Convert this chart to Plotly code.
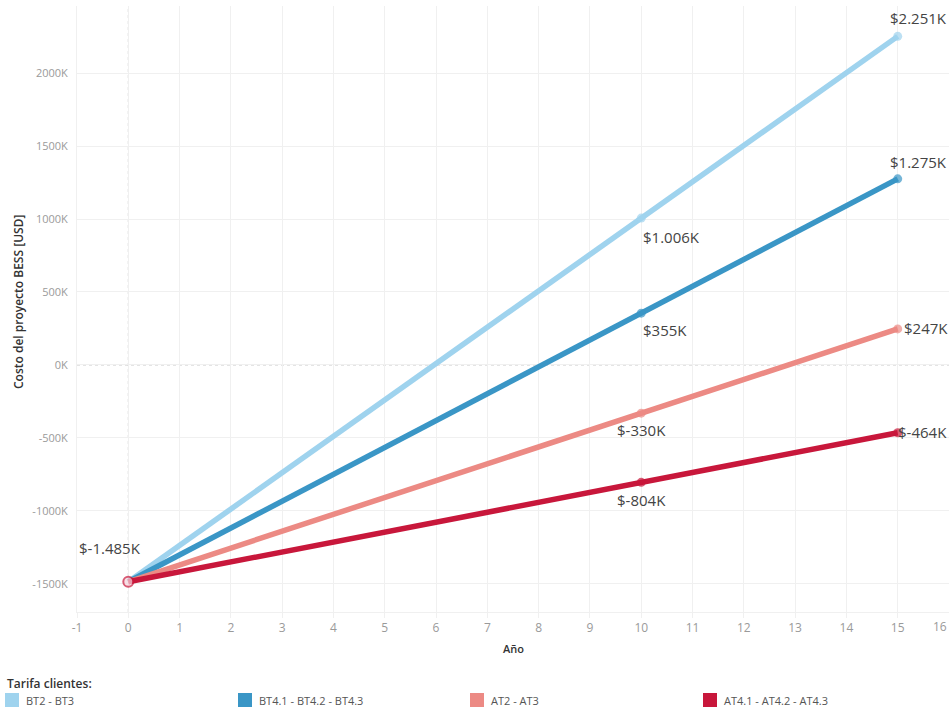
import plotly.graph_objects as go

# Project cost of a BESS installation over time, per customer tariff group
years = [0, 10, 15]
series_names = ["BT2 - BT3", "BT4.1 - BT4.2 - BT4.3", "AT2 - AT3", "AT4.1 - AT4.2 - AT4.3"]
bt2_bt3 = [-1485, 1006, 2251]
bt4 = [-1485, 355, 1275]
at2_at3 = [-1485, -330, 247]
at4 = [-1485, -804, -464]
series_values = [bt2_bt3, bt4, at2_at3, at4]
series_colors = ["#9fd3ee", "#3a96c6", "#ec8a84", "#c8173b"]

x_ticks = list(range(-1, 17))
y_ticks = [-1500, -1000, -500, 0, 500, 1000, 1500, 2000]

W, H = 949, 710
L, R, T, B = 77, 0, 6, 98
PW, PH = W - L - R, H - T - B

FONT = "Open Sans"
LABEL_COLOR = "#444444"
TICK_COLOR = "#9a9a9a"
GRID = "#f0f0f0"


def money(v):
    sign = "-" if v < 0 else ""
    s = f"{abs(v):,}".replace(",", ".")
    return f"${sign}{s}K"


def px_x(p):
    return (p - L) / PW


def px_y(p):
    return (H - B - p) / PH


fig = go.Figure()

for name, vals, col in zip(series_names, series_values, series_colors):
    is_last = name == series_names[-1]
    fig.add_trace(go.Scatter(
        x=years, y=vals, mode="lines+markers", name=name,
        line=dict(color=col, width=5.5),
        marker=dict(
            size=[10 if is_last else 0, 9, 9],
            color=["#f6d3dc" if is_last else col, col, col],
            line=dict(color=col, width=[2 if is_last else 0, 0, 0]),
        ),
        showlegend=False, hoverinfo="x+y",
    ))

# value labels: (series index, point index, xanchor, xshift, yshift)
label_specs = [
    (3, 0, "center", -18, 34),
    (0, 1, "left", 0, -19),
    (1, 1, "left", 0, -17),
    (2, 1, "center", 0, -17),
    (3, 1, "center", 0, -18),
    (0, 2, "left", -10, 18),
    (1, 2, "left", -10, 17),
    (2, 2, "left", 4, 1),
    (3, 2, "left", -2, 1),
]
for si, pi, anchor, dx, dy in label_specs:
    v = series_values[si][pi]
    fig.add_annotation(
        x=years[pi], y=v, text=money(v), showarrow=False,
        xanchor=anchor, yanchor="middle", xshift=dx, yshift=dy,
        font=dict(family=FONT, size=15, color=LABEL_COLOR),
    )

# dotted zero reference lines
fig.add_shape(type="line", xref="x", yref="paper", x0=0, x1=0, y0=0, y1=1,
              line=dict(color="#c8c8c8", width=1, dash="dot"), layer="below")
fig.add_shape(type="line", xref="paper", yref="y", x0=0, x1=1, y0=0, y1=0,
              line=dict(color="#c8c8c8", width=1, dash="dot"), layer="below")

# last x tick label sits flush with the right edge
fig.add_annotation(
    xref="x", yref="paper", x=x_ticks[-1], y=px_y(626), text=str(x_ticks[-1]),
    showarrow=False, xanchor="right", yanchor="middle", xshift=0,
    font=dict(family=FONT, size=12, color=TICK_COLOR),
)

# axis titles
fig.add_annotation(
    xref="paper", yref="paper", x=px_x(18), y=px_y(302), text="Costo del proyecto BESS [USD]",
    textangle=-90, showarrow=False, xanchor="center", yanchor="middle",
    font=dict(family=FONT, size=12, color="#333333", weight=600),
)
fig.add_annotation(
    xref="paper", yref="paper", x=px_x(513), y=px_y(648), text="Año",
    showarrow=False, xanchor="center", yanchor="middle",
    font=dict(family=FONT, size=11, color="#333333", weight=600),
)

# legend block
fig.add_annotation(
    xref="paper", yref="paper", x=px_x(5), y=px_y(683), text="Tarifa clientes:",
    showarrow=False, xanchor="left", yanchor="middle",
    font=dict(family=FONT, size=12, color="#333333", weight=600),
)
legend_x = [5, 238, 470, 703]
for name, col, lx in zip(series_names, series_colors, legend_x):
    fig.add_shape(type="rect", xref="paper", yref="paper",
                  x0=px_x(lx), x1=px_x(lx + 14), y0=px_y(707), y1=px_y(693),
                  fillcolor=col, line=dict(width=0))
    fig.add_annotation(
        xref="paper", yref="paper", x=px_x(lx + 19), y=px_y(700), text=name,
        showarrow=False, xanchor="left", yanchor="middle",
        font=dict(family=FONT, size=11, color="#555555"),
    )

fig.update_layout(
    width=W, height=H,
    margin=dict(l=L, r=R, t=T, b=B),
    plot_bgcolor="white", paper_bgcolor="white",
    font=dict(family=FONT),
    showlegend=False,
    xaxis=dict(
        range=[-1, 16], tickvals=x_ticks,
        ticktext=[str(t) for t in x_ticks[:-1]] + [""],
        showgrid=True, gridcolor=GRID, gridwidth=1, zeroline=False,
        showline=True, linecolor=GRID, ticks="outside", ticklen=5, tickcolor=GRID,
        tickfont=dict(family=FONT, size=12, color=TICK_COLOR),
    ),
    yaxis=dict(
        range=[-1692, 2459], tickvals=y_ticks, ticktext=[f"{t}K" for t in y_ticks],
        showgrid=True, gridcolor=GRID, gridwidth=1, zeroline=False,
        showline=True, linecolor=GRID, ticks="", ticklabelstandoff=6,
        tickfont=dict(family=FONT, size=11, color=TICK_COLOR),
    ),
)

fig.write_html("out.html")
